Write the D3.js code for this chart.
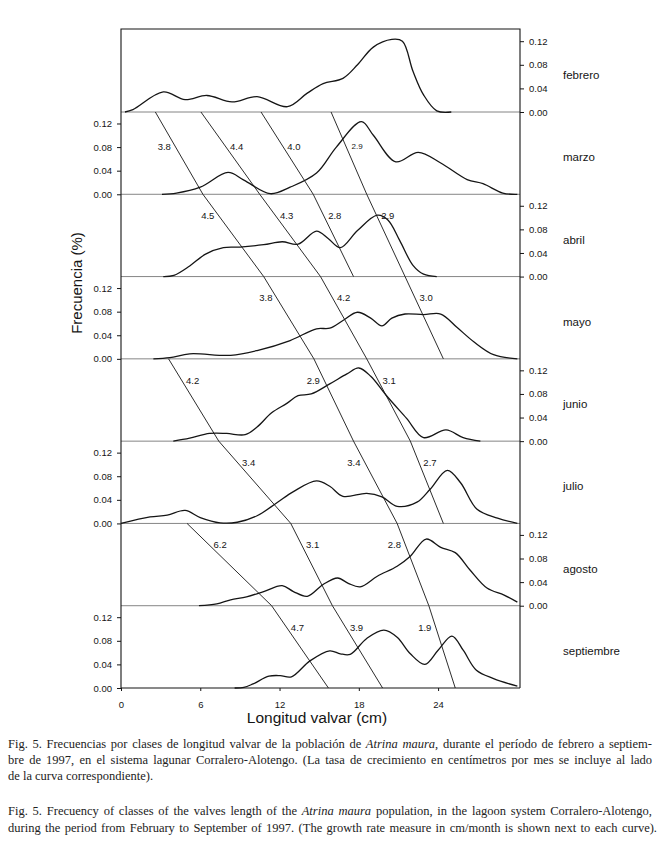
<!DOCTYPE html>
<html><head><meta charset="utf-8">
<script src="https://cdn.jsdelivr.net/npm/d3@7"></script>
<style>
html,body{margin:0;padding:0;background:#fff;}
svg{display:block;}
</style></head>
<body>
<svg id="c" width="664" height="850"></svg>
<script>
// ---------- data ----------
const months = ["febrero","marzo","abril","mayo","junio","julio","agosto","septiembre"];
const xTicks = [0, 6, 12, 18, 24];
const yTicks = [0.00, 0.04, 0.08, 0.12];

// [length (cm), frequency]
const febrero = [[0.3,0],[0.9,0.004],[3.2,0.034],[4.85,0.021],[6.5,0.028],[8.4,0.017],[10.3,0.026],[12.6,0.009],[14.1,0.032],[15.3,0.048],[16.8,0.057],[17.9,0.080],[19.1,0.110],[20.5,0.123],[21.3,0.120],[22.1,0.069],[22.9,0.029],[23.9,0.002],[25.0,0]];
const marzo = [[3.1,0],[4.2,0.002],[6.0,0.012],[8.1,0.037],[9.3,0.024],[11.3,0.001],[12.8,0.012],[14.8,0.036],[16.3,0.080],[18.2,0.123],[19.1,0.100],[20.8,0.055],[22.5,0.071],[24.2,0.053],[26.2,0.025],[27.4,0.018],[28.9,0.002],[30,0]];
const abril = [[3.2,0],[4.0,0.002],[5.2,0.018],[6.4,0.038],[7.75,0.049],[9.0,0.050],[10.8,0.054],[12.2,0.059],[13.4,0.055],[14.8,0.077],[15.7,0.064],[16.6,0.049],[17.9,0.078],[19.4,0.104],[20.2,0.096],[21.1,0.061],[22.1,0.019],[22.9,0.004],[23.9,0]];
const mayo = [[2.45,0],[3.7,0.002],[5.2,0.0085],[8.3,0.006],[10.3,0.014],[12.8,0.031],[14.8,0.051],[15.8,0.052],[16.8,0.065],[17.9,0.079],[18.9,0.069],[19.75,0.056],[20.5,0.069],[21.5,0.076],[22.9,0.075],[24.2,0.076],[25.4,0.054],[26.7,0.029],[28.2,0.007],[30,0]];
const junio = [[3.96,0],[5.2,0.005],[6.7,0.013],[8.0,0.013],[9.4,0.011],[10.3,0.024],[11.4,0.048],[12.55,0.064],[13.4,0.077],[14.4,0.080],[15.8,0.097],[17.1,0.114],[18.0,0.124],[18.9,0.110],[20.1,0.077],[21.6,0.039],[22.9,0.006],[24.6,0.019],[25.9,0.006],[27.2,0]];
const julio = [[0,0],[2.2,0.011],[3.5,0.014],[4.85,0.022],[6.0,0.010],[7.5,0.001],[8.8,0.002],[10.3,0.013],[11.8,0.035],[13.05,0.054],[14.8,0.072],[15.8,0.063],[16.8,0.046],[18.6,0.051],[19.75,0.045],[20.9,0.029],[22.4,0.036],[23.4,0.058],[24.7,0.090],[25.7,0.069],[26.95,0.024],[28.5,0.009],[30,0]];
const agosto = [[5.9,0],[7.25,0.003],[8.3,0.010],[9.5,0.015],[10.8,0.024],[12.2,0.034],[13.05,0.024],[14.1,0.016],[15.3,0.036],[16.4,0.047],[17.2,0.038],[18.1,0.032],[19.4,0.050],[20.9,0.067],[21.9,0.084],[23.1,0.113],[24.2,0.099],[25.3,0.090],[26.4,0.061],[27.7,0.030],[29.0,0.018],[30,0.006]];
const septiembre = [[8.6,0],[9.3,0.001],[10.0,0.007],[11.2,0.020],[12.05,0.021],[12.9,0.019],[14.3,0.046],[15.8,0.063],[16.6,0.058],[17.35,0.057],[18.6,0.084],[19.9,0.098],[20.9,0.086],[21.9,0.058],[23.0,0.040],[24.0,0.064],[25.05,0.088],[25.9,0.064],[26.9,0.030],[28.2,0.016],[30,0.003]];
const series = [febrero, marzo, abril, mayo, junio, julio, agosto, septiembre];

// growth chains: first month index, modal length (cm) at each successive month, growth rate labels (cm/month)
const chain1Start = 0, chain1Cm = [2.6, 6.2, 10.8, 14.6, 17.6, 20.9, 23.3, 25.3], chain1Rate = ["3.8","4.5","3.8","2.9","3.4","2.8","1.9"];
const chain2Start = 0, chain2Cm = [6.05, 10.5, 15.1, 18.6, 21.9, 24.4], chain2Rate = ["4.4","4.3","4.2","3.1","2.7"];
const chain3Start = 0, chain3Cm = [10.6, 14.55, 17.6], chain3Rate = ["4.0","2.8"];
const chain4Start = 0, chain4Cm = [15.9, 18.6, 21.5, 24.4], chain4Rate = ["2.9","2.9","3.0"];
const chain5Start = 3, chain5Cm = [3.6, 7.4, 12.85, 16.0, 19.8], chain5Rate = ["4.2","3.4","3.1","3.9"];
const chain6Start = 5, chain6Cm = [5.0, 11.4, 15.7], chain6Rate = ["6.2","4.7"];

// ---------- drawing ----------
const chains = [
  {start:chain1Start, cm:chain1Cm, rate:chain1Rate, side:-1},
  {start:chain2Start, cm:chain2Cm, rate:chain2Rate, side:1},
  {start:chain3Start, cm:chain3Cm, rate:chain3Rate, side:1},
  {start:chain4Start, cm:chain4Cm, rate:chain4Rate, side:1},
  {start:chain5Start, cm:chain5Cm, rate:chain5Rate, side:1},
  {start:chain6Start, cm:chain6Cm, rate:chain6Rate, side:1}
];

const svg = d3.select("#c");
svg.append("rect").attr("width",664).attr("height",850).attr("fill","#fff");

const L = 121, R = 520, TOP = 29, BOT = 688;
const x = d3.scaleLinear().domain([0, 30.2]).range([L, R]);
const base = d3.scaleLinear().domain([0, 7]).range([112, BOT]);
const yFor = i => d3.scaleLinear().domain([0, 0.12]).range([base(i), base(i) - 70.8]);

const sans = "'Liberation Sans', Arial, sans-serif";
const ink = "#151515";

// panel baselines
months.forEach((m, i) => {
  svg.append("line").attr("x1", L).attr("x2", R).attr("y1", base(i)).attr("y2", base(i))
    .attr("stroke", i === 7 ? ink : "#777").attr("stroke-width", i === 7 ? 1.2 : 0.9);
});

// frame
svg.append("path")
  .attr("d", `M${L},${BOT}V${TOP}H${R}V${BOT}`)
  .attr("fill","none").attr("stroke", ink).attr("stroke-width", 1.1);

// y axes, alternating sides
months.forEach((m, i) => {
  const y = yFor(i);
  const right = i % 2 === 0;
  const ax = (right ? d3.axisRight(y) : d3.axisLeft(y))
    .tickValues(yTicks).tickFormat(d3.format(".2f")).tickSize(4).tickPadding(5);
  const g = svg.append("g").attr("transform", `translate(${right ? R : L},0)`).call(ax);
  g.select(".domain").remove();
  g.selectAll("line").attr("stroke", ink);
  g.selectAll("text").attr("font-family", sans).attr("font-size", 9.5).attr("fill", ink);
  svg.append("text").attr("x", 563).attr("y", base(i) - 37).attr("dy", "0.35em")
    .attr("font-family", sans).attr("font-size", 11.5).attr("fill", ink).text(m);
});

// x axis
const xa = svg.append("g").attr("transform", `translate(0,${BOT})`)
  .call(d3.axisBottom(x).tickValues(xTicks).tickSize(3).tickPadding(10));
xa.select(".domain").remove();
xa.selectAll("line").attr("stroke", ink);
xa.selectAll("text").attr("font-family", sans).attr("font-size", 9.5).attr("fill", ink);

// curves
const line = d3.line().curve(d3.curveCatmullRom.alpha(0.5));
series.forEach((s, i) => {
  const y = yFor(i);
  svg.append("path")
    .attr("d", line.x(d => x(d[0])).y(d => y(d[1]))(s))
    .attr("fill","none").attr("stroke", ink).attr("stroke-width", 1.3);
});

// growth lines + labels
chains.forEach(c => {
  for (let k = 0; k < c.cm.length - 1; k++) {
    const m0 = c.start + k, m1 = m0 + 1;
    const x0 = x(c.cm[k]), y0 = base(m0), x1 = x(c.cm[k+1]), y1 = base(m1);
    svg.append("line").attr("x1", x0).attr("y1", y0).attr("x2", x1).attr("y2", y1)
      .attr("stroke", ink).attr("stroke-width", 0.9);
    const ly = yFor(m1)(m1 === 1 ? 0.081 : 0.103);
    const t = (ly - y0) / (y1 - y0);
    const lx = x0 + t * (x1 - x0) + c.side * 11;
    svg.append("text").attr("x", lx).attr("y", ly).attr("dy", "0.35em")
      .attr("text-anchor", "middle").attr("font-family", sans)
      .attr("font-size", (m1 === 1 && c.side === 1 && k === 0 && c.cm[0] > 15) ? 8 : 9.5)
      .attr("fill", ink).text(c.rate[k]);
  }
});

// axis titles
svg.append("text").attr("transform", "translate(82,283) rotate(-90)")
  .attr("text-anchor","middle").attr("font-family", sans).attr("font-size", 15).attr("fill", ink)
  .text("Frecuencia (%)");
svg.append("text").attr("x", 317).attr("y", 723)
  .attr("text-anchor","middle").attr("font-family", sans).attr("font-size", 15.5).attr("fill", ink)
  .text("Longitud valvar (cm)");

// caption
const serif = "'Liberation Serif', 'Times New Roman', serif";
const caption = [
  {y:748, w:644, parts:[["Fig. 5. Frecuencias por clases de longitud valvar de la población de ",0],["Atrina maura",1],[", durante el período de febrero a septiem-",0]]},
  {y:764, w:644, parts:[["bre de 1997, en el sistema lagunar Corralero-Alotengo. (La tasa de crecimiento en centímetros por mes se incluye al lado",0]]},
  {y:780, w:0, parts:[["de la curva correspondiente).",0]]},
  {y:815, w:644, parts:[["Fig. 5. Frecuency of classes of the valves length of the ",0],["Atrina maura",1],[" population, in the lagoon system Corralero-Alotengo,",0]]},
  {y:832, w:649, parts:[["during the period from February to September of 1997. (The growth rate measure in cm/month is shown next to each curve).",0]]}
];
caption.forEach(c => {
  const t = svg.append("text").attr("x", 8).attr("y", c.y)
    .attr("font-family", serif).attr("font-size", 12.5).attr("fill", "#222");
  c.parts.forEach(p => {
    const ts = t.append("tspan").text(p[0]);
    if (p[1]) ts.attr("font-style","italic");
  });
  if (c.w) {
    const len = t.node().getComputedTextLength();
    const spaces = c.parts.map(p => p[0]).join("").split(" ").length - 1;
    t.attr("word-spacing", ((c.w - len) / spaces).toFixed(3));
  }
});
</script>
</body></html>
